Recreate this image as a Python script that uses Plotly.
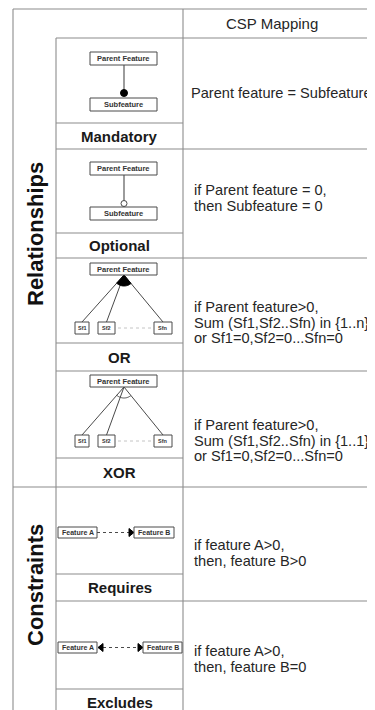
"""
Feature-model relationships and their CSP mapping, drawn as a table with plotly shapes
"""

import math
import plotly.graph_objects as go

# ---------- content ----------
HEADER = "CSP Mapping"
GROUPS = ["Relationships", "Constraints"]
ROW_LABELS = ["Mandatory", "Optional", "OR", "XOR", "Requires", "Excludes"]
CSP_LINES = [
    ["Parent feature = Subfeature"],
    ["if Parent feature = 0,", "then Subfeature = 0"],
    ["if Parent feature>0,", "Sum (Sf1,Sf2..Sfn) in {1..n}", "or Sf1=0,Sf2=0...Sfn=0"],
    ["if Parent feature>0,", "Sum (Sf1,Sf2..Sfn) in {1..1}", "or Sf1=0,Sf2=0...Sfn=0"],
    ["if feature A>0,", "then, feature B>0"],
    ["if feature A>0,", "then, feature B=0"],
]
PARENT = "Parent Feature"
CHILD = "Subfeature"
SUBS = ["Sf1", "Sf2", "Sfn"]
FEATS = ["Feature A", "Feature B"]

# ---------- layout (pixels, y grows downwards) ----------
W, H = 375, 710
PAGE = 8            # body margin of the html page
X0, X1, X2, XR = 13, 56, 183, 390
Y_TOP, Y_HEAD = 9, 38
ROW_TOP = [38, 149, 258, 371, 487, 601]
LBL_TOP = [123, 233, 343, 458, 574, 689]
ROW_BOT = [149, 258, 371, 487, 601, 716]
GROUP_SPLIT = 487
GROUP_Y = [234, 585]
CSP_Y = [[93], [190, 206], [307, 322.5, 338], [425, 440.5, 456], [545, 561], [651, 667]]
CSP_X = [189, 192, 192, 192, 192, 192]

FONT = "Liberation Sans, Arial, Helvetica, sans-serif"
GRID = "#8c8c8c"
INK = "#4a4a4a"
TXT = "#262626"

shapes = []
annotations = []


def line(x0, y0, x1, y1, color=GRID, width=1.1, dash=None):
    ln = dict(color=color, width=width)
    if dash:
        ln["dash"] = dash
    shapes.append(dict(type="line", xref="x", yref="y",
                       x0=x0, y0=y0, x1=x1, y1=y1, line=ln, layer="above"))


def path(pts, fill=None, close=True, color=INK, width=1):
    d = "M " + " L ".join(f"{x:.2f},{y:.2f}" for x, y in pts)
    if close:
        d += " Z"
    shapes.append(dict(type="path", xref="x", yref="y", path=d,
                       fillcolor=fill if fill else "rgba(0,0,0,0)",
                       line=dict(color=color, width=width), layer="above"))


def text(x, y, s, size, bold=False, anchor="center", color=TXT, angle=0):
    annotations.append(dict(x=x, y=y, xref="x", yref="y", showarrow=False,
                            text=f"<b>{s}</b>" if bold else s,
                            xanchor=anchor, yanchor="middle", textangle=angle,
                            font=dict(family=FONT, size=size, color=color)))


def box(x0, y0, x1, y1, label, size):
    shapes.append(dict(type="rect", xref="x", yref="y", x0=x0, y0=y0, x1=x1, y1=y1,
                       line=dict(color=INK, width=1), fillcolor="white", layer="above"))
    text((x0 + x1) / 2, (y0 + y1) / 2, label, size, bold=True, color="#333333")


def arc_pts(cx, cy, r, a0, a1, n=24):
    return [(cx + r * math.cos(a0 + (a1 - a0) * i / n),
             cy + r * math.sin(a0 + (a1 - a0) * i / n)) for i in range(n + 1)]


def tree(py, sy, filled):
    # parent box, three children and the group decoration
    cx = 124
    sub_x = [(75, 89), (98, 115), (154, 172)]
    apex = (cx, py + 12)
    tops = [((a + b) / 2, sy) for a, b in sub_x]
    for t in tops:
        line(apex[0], apex[1], t[0], t[1], color=INK, width=1)
    a0 = math.atan2(tops[2][1] - apex[1], tops[2][0] - apex[0])
    a1 = math.atan2(tops[0][1] - apex[1], tops[0][0] - apex[0])
    pts = arc_pts(apex[0], apex[1], 11, a0, a1)
    if filled:
        path([apex] + pts, fill="black", color="black")
    else:
        path(pts, close=False, color=INK)
    box(90, py, 157, py + 12, PARENT, 7.5)
    for (a, b), name in zip(sub_x, SUBS):
        box(a, sy, b, sy + 12, name, 5.5)
    line(118, sy + 6, 152, sy + 6, color="#c4c4c4", width=1, dash="dot")


# ---------- table grid ----------
line(X0, Y_TOP, XR, Y_TOP)
line(X0, Y_TOP, X0, H + 10)
line(X2, Y_TOP, X2, H + 10)
line(X1, Y_HEAD, X1, H + 10)
line(X1, Y_HEAD, XR, Y_HEAD)
for y in LBL_TOP:
    line(X1, y, X2, y)
for y in ROW_BOT[:-1]:
    if y == GROUP_SPLIT:
        line(X0, y, XR, y)
    else:
        line(X1, y, XR, y)

# ---------- texts ----------
text((X2 + 361) / 2, (Y_TOP + Y_HEAD) / 2, HEADER, 15)
for g, gy in zip(GROUPS, GROUP_Y):
    text((X0 + X1) / 2 + 0.5, gy, g, 22, bold=True, color="#111111", angle=-90)
for lab, lt, rb in zip(ROW_LABELS, LBL_TOP, ROW_BOT):
    text((X1 + X2) / 2, (lt + min(rb, 716)) / 2, lab, 15, bold=True, color="#1a1a1a")
for lines_, ys, x in zip(CSP_LINES, CSP_Y, CSP_X):
    for s, y in zip(lines_, ys):
        text(x, y, s, 14.6, anchor="left")

# ---------- diagrams ----------
# mandatory
line(124, 65, 124, 90, color=INK)
shapes.append(dict(type="circle", xref="x", yref="y", x0=120.5, y0=89.5, x1=127.5, y1=96.5,
                   fillcolor="black", line=dict(color="black", width=1), layer="above"))
box(90, 52, 157, 65, PARENT, 7.5)
box(90, 98, 157, 111, CHILD, 7.5)

# optional
line(124, 175, 124, 201, color=INK)
shapes.append(dict(type="circle", xref="x", yref="y", x0=121, y0=200.5, x1=127, y1=206.5,
                   fillcolor="white", line=dict(color=INK, width=1), layer="above"))
box(90, 162, 157, 175, PARENT, 7.5)
box(90, 207, 157, 220, CHILD, 7.5)

# or / xor
tree(263, 322, True)
tree(375, 435, False)

# requires
line(97, 532.5, 129, 532.5, color=INK, dash="3px,3px")
path([(129, 528.5), (134, 532.5), (129, 536.5)], fill="black", color="black")
box(58, 527, 97, 538, FEATS[0], 7)
box(134, 527, 174, 538, FEATS[1], 7)

# excludes
line(103, 647.5, 138, 647.5, color=INK, dash="3px,3px")
path([(103, 643.5), (98, 647.5), (103, 651.5)], fill="black", color="black")
path([(138, 643.5), (143, 647.5), (138, 651.5)], fill="black", color="black")
box(58, 642, 97, 653, FEATS[0], 7)
box(143, 642, 182, 653, FEATS[1], 7)

fig = go.Figure()
# the html body margin shifts the figure by PAGE px, so start the axes there
fig.update_layout(
    width=W - PAGE, height=H - PAGE,
    margin=dict(l=0, r=0, t=0, b=0),
    paper_bgcolor="white", plot_bgcolor="white",
    xaxis=dict(range=[PAGE, W], visible=False, fixedrange=True),
    yaxis=dict(range=[H, PAGE], visible=False, fixedrange=True),
    shapes=shapes, annotations=annotations,
    showlegend=False,
)

fig.write_html("out.html")
